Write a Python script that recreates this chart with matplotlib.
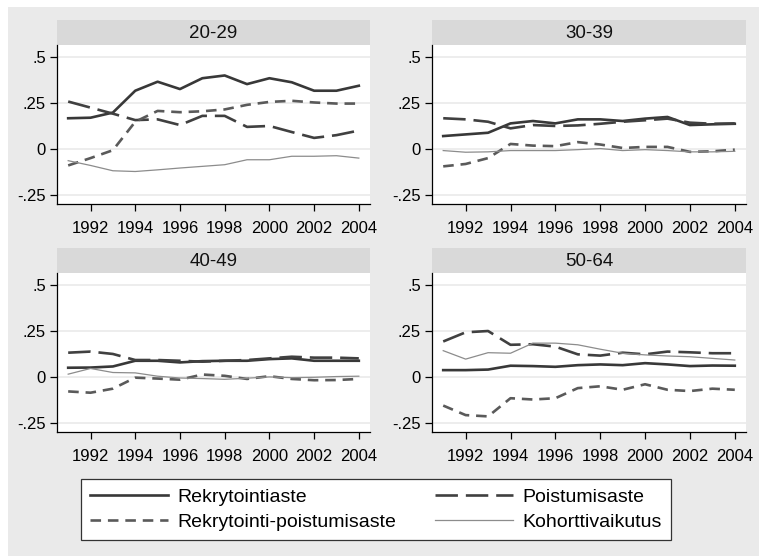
import matplotlib
matplotlib.use("Agg")
import matplotlib.pyplot as plt
from matplotlib.patches import Rectangle
from matplotlib.lines import Line2D

plt.rcParams["font.family"] = ["Liberation Sans", "DejaVu Sans"]

years = list(range(1991, 2005))
groups = ["20-29", "30-39", "40-49", "50-64"]
series_names = ["Rekrytointiaste", "Poistumisaste",
                "Rekrytointi-poistumisaste", "Kohorttivaikutus"]

rekrytointiaste = {
    "20-29": [0.167, 0.170, 0.198, 0.317, 0.366, 0.326, 0.385, 0.400, 0.353, 0.385, 0.363, 0.317, 0.317, 0.344],
    "30-39": [0.070, 0.079, 0.088, 0.139, 0.152, 0.139, 0.161, 0.161, 0.152, 0.165, 0.174, 0.130, 0.134, 0.137],
    "40-49": [0.050, 0.051, 0.057, 0.088, 0.088, 0.079, 0.086, 0.088, 0.088, 0.097, 0.101, 0.088, 0.088, 0.088],
    "50-64": [0.037, 0.037, 0.040, 0.061, 0.059, 0.055, 0.064, 0.068, 0.064, 0.075, 0.068, 0.059, 0.062, 0.061],
}
poistumisaste = {
    "20-29": [0.258, 0.225, 0.192, 0.157, 0.161, 0.130, 0.180, 0.180, 0.120, 0.125, 0.092, 0.060, 0.075, 0.100],
    "30-39": [0.167, 0.161, 0.148, 0.112, 0.130, 0.125, 0.128, 0.137, 0.148, 0.156, 0.165, 0.143, 0.137, 0.139],
    "40-49": [0.132, 0.138, 0.125, 0.092, 0.092, 0.088, 0.083, 0.088, 0.092, 0.101, 0.110, 0.105, 0.105, 0.101],
    "50-64": [0.193, 0.243, 0.250, 0.175, 0.178, 0.165, 0.123, 0.116, 0.132, 0.123, 0.138, 0.134, 0.129, 0.129],
}
rekr_poist = {
    "20-29": [-0.090, -0.050, -0.007, 0.148, 0.207, 0.200, 0.205, 0.215, 0.240, 0.256, 0.262, 0.253, 0.247, 0.247],
    "30-39": [-0.095, -0.082, -0.050, 0.027, 0.018, 0.015, 0.037, 0.024, 0.005, 0.011, 0.011, -0.016, -0.013, -0.004],
    "40-49": [-0.079, -0.086, -0.064, -0.004, -0.009, -0.015, 0.013, 0.006, -0.011, 0.004, -0.011, -0.018, -0.017, -0.011],
    "50-64": [-0.156, -0.208, -0.215, -0.116, -0.123, -0.116, -0.061, -0.051, -0.070, -0.040, -0.070, -0.077, -0.064, -0.070],
}
kohorttivaikutus = {
    "20-29": [-0.064, -0.090, -0.119, -0.123, -0.114, -0.104, -0.095, -0.086, -0.059, -0.059, -0.040, -0.040, -0.037, -0.050],
    "30-39": [-0.009, -0.018, -0.016, -0.009, -0.009, -0.009, -0.004, 0.002, -0.009, -0.004, -0.009, -0.016, -0.016, -0.013],
    "40-49": [0.015, 0.046, 0.024, 0.022, 0.004, -0.006, -0.009, -0.013, -0.007, 0.000, -0.004, -0.002, 0.002, 0.004],
    "50-64": [0.143, 0.097, 0.132, 0.129, 0.184, 0.184, 0.175, 0.151, 0.129, 0.120, 0.114, 0.110, 0.101, 0.092],
}

y_ticks = [-0.25, 0, 0.25, 0.5]
y_tick_labels = ["-.25", "0", ".25", ".5"]
x_ticks = list(range(1992, 2005, 2))

# line styles: (colour, width, dash pattern in linewidth units or None)
styles = [
    ("#383838", 1.9, None),
    ("#404040", 1.9, (8.5, 3.0)),
    ("#5a5a5a", 1.9, (4.0, 2.6)),
    ("#8c8c8c", 0.9, None),
]
data = [rekrytointiaste, poistumisaste, rekr_poist, kohorttivaikutus]

W, H = 759, 556
fig = plt.figure(figsize=(W / 100, H / 100), dpi=100)
fig.patch.set_facecolor("white")
fig.patches.append(Rectangle((8 / W, 0), 1 - 8 / W, 1 - 7 / H,
                             transform=fig.transFigure, facecolor="#eaeaea",
                             edgecolor="none", zorder=-10))


def px_rect(x0, y0, x1, y1):
    return [x0 / W, 1 - y1 / H, (x1 - x0) / W, (y1 - y0) / H]


panels = {
    "20-29": (57, 45, 370, 204, 20),
    "30-39": (432, 45, 746, 204, 20),
    "40-49": (57, 273, 370, 432, 248),
    "50-64": (432, 273, 746, 432, 248),
}

for g in groups:
    x0, y0, x1, y1, sy = panels[g]
    strip = fig.add_axes(px_rect(x0, sy, x1, y0))
    strip.set_facecolor("#d9d9d9")
    strip.set_xticks([])
    strip.set_yticks([])
    for s in strip.spines.values():
        s.set_visible(False)
    strip.text(0.5, 0.45, g, ha="center", va="center", fontsize=13.5,
               color="#111111", transform=strip.transAxes)

    ax = fig.add_axes(px_rect(x0, y0, x1, y1))
    ax.set_facecolor("white")
    for yv in y_ticks:
        ax.axhline(yv, color="#eaeaea", lw=1.2, zorder=0)
    for d, (c, lw, dash) in zip(data, styles):
        line, = ax.plot(years, d[g], color=c, lw=lw, zorder=2)
        if dash is not None:
            line.set_dashes(dash)
    ax.set_xlim(1990.5, 2004.5)
    ax.set_ylim(-0.30, 0.566)
    ax.set_yticks(y_ticks)
    ax.set_yticklabels(y_tick_labels)
    ax.set_xticks(x_ticks)
    ax.set_xticklabels([str(x) for x in x_ticks])
    ax.tick_params(axis="both", direction="out", length=5, width=0.9,
                   labelsize=12, colors="black", pad=3)
    ax.tick_params(axis="x", pad=7)
    ax.spines["top"].set_visible(False)
    ax.spines["right"].set_visible(False)
    ax.spines["left"].set_linewidth(0.9)
    ax.spines["bottom"].set_linewidth(0.9)

handles = []
for name, (c, lw, dash) in zip(series_names, styles):
    h = Line2D([], [], color=c, lw=lw)
    if dash is not None:
        h.set_dashes(dash)
    handles.append(h)

# two columns: row 1 Rekrytointiaste / Poistumisaste, row 2 the others
order = [handles[0], handles[2], handles[1], handles[3]]
labels = [series_names[0], series_names[2], series_names[1], series_names[3]]
leg = fig.legend(order, labels, ncol=2, loc="center",
                 bbox_to_anchor=(78 / W, 1 - 542 / H, (674 - 78) / W, 65 / H),
                 fontsize=14, handlelength=4.0, handletextpad=0.5,
                 columnspacing=2.0, labelspacing=0.4, frameon=True,
                 fancybox=False, borderpad=0.45, borderaxespad=0)
leg.get_frame().set_edgecolor("#333333")
leg.get_frame().set_linewidth(0.9)
leg.get_frame().set_facecolor("white")
leg.get_frame().set_alpha(1)

fig.savefig("out.png", dpi=100, facecolor=fig.get_facecolor())
